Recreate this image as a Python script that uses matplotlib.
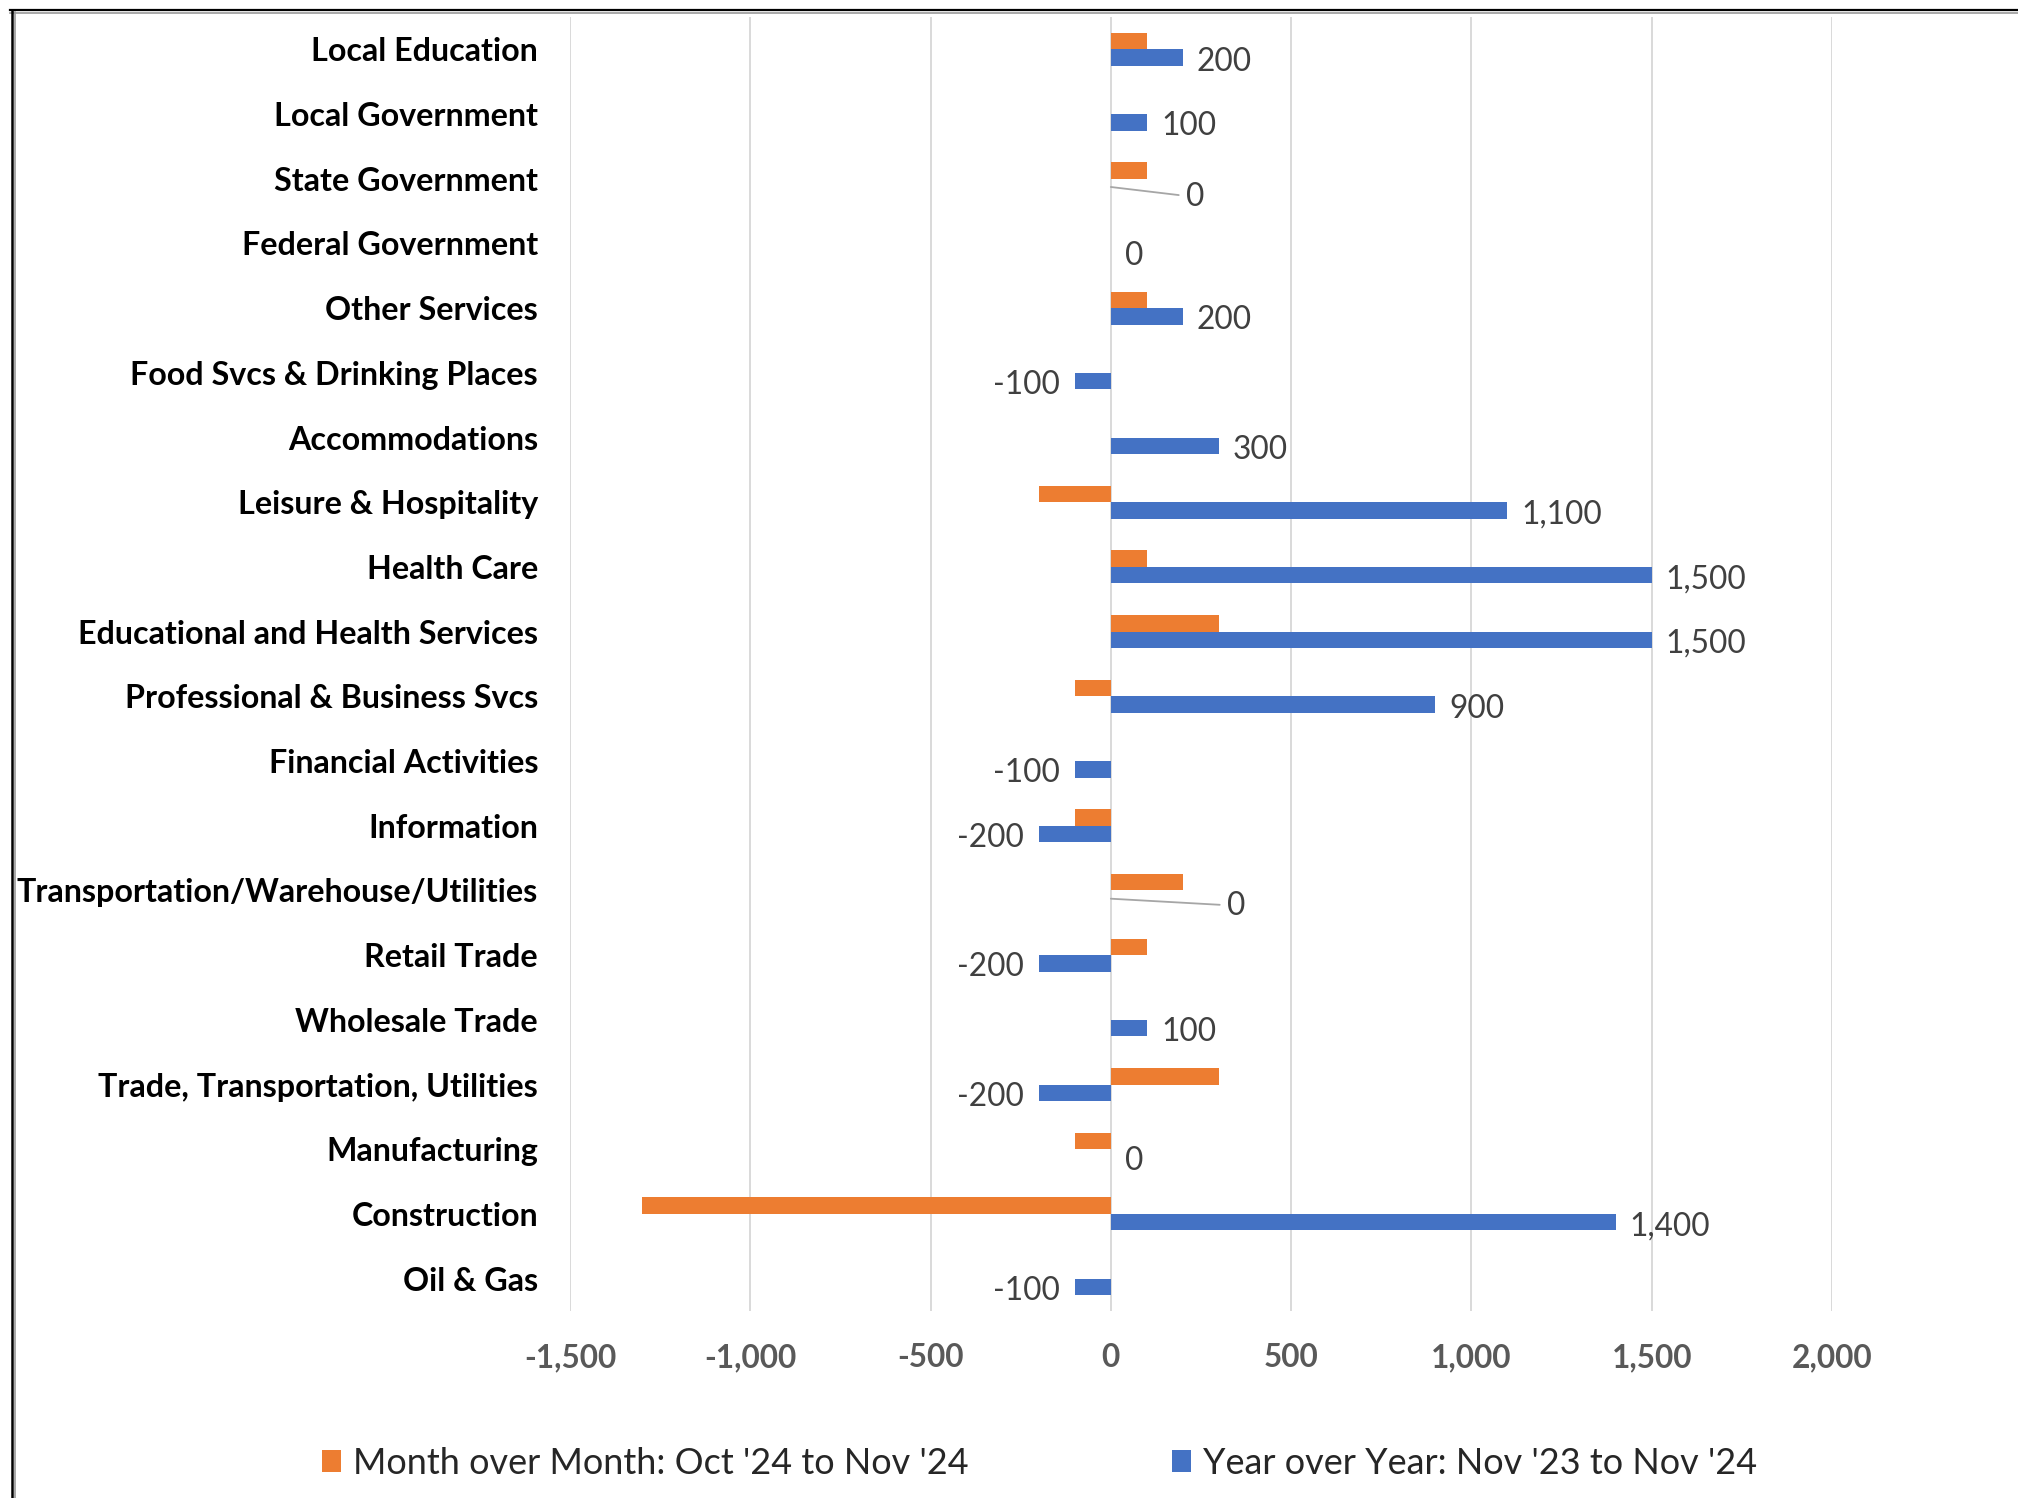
import numpy as np
import matplotlib
matplotlib.use("Agg")
import matplotlib.pyplot as plt
from matplotlib.textpath import TextPath
from matplotlib.font_manager import FontProperties
from matplotlib.ticker import FuncFormatter
from matplotlib.lines import Line2D

# ---------------- data ----------------
categories = [
    "Local Education", "Local Government", "State Government", "Federal Government",
    "Other Services", "Food Svcs & Drinking Places", "Accommodations",
    "Leisure & Hospitality", "Health Care", "Educational and Health Services",
    "Professional & Business Svcs", "Financial Activities", "Information",
    "Transportation/Warehouse/Utilities", "Retail Trade", "Wholesale Trade",
    "Trade, Transportation, Utilities", "Manufacturing", "Construction", "Oil & Gas",
]
mom = [100, 0, 100, 0, 100, 0, 0, -200, 100, 300, -100, 0, -100, 200, 100, 0, 300, -100, -1300, 0]
yoy = [200, 100, 0, 0, 200, -100, 300, 1100, 1500, 1500, 900, -100, -200, 0, -200, 100, -200, 0, 1400, -100]
series_names = ["Month over Month: Oct '24 to Nov '24", "Year over Year: Nov '23 to Nov '24"]
xticks = [-1500, -1000, -500, 0, 500, 1000, 1500, 2000]

# ---------------- style ----------------
W, H, DPI = 2018, 1498, 100
FAM = "Lato"
ORANGE, BLUE = "#ED7D31", "#4472C4"


def fit(text, weight, target_px):
    fp = FontProperties(family=FAM, weight=weight)
    w = TextPath((0, 0), text, size=100, prop=fp).get_extents().width
    return target_px * 72 / DPI * 100 / w


fs_cat = fit("Transportation/Warehouse/Utilities", "bold", 520)
fs_tick = fit("-1,500", "bold", 90)
fs_lab = fit("1,500", "normal", 77)
fs_leg = fit(series_names[0], "normal", 610)

fig = plt.figure(figsize=(W / DPI, H / DPI), dpi=DPI)
ax = fig.add_axes([570 / W, 1 - 1311 / H, (1832 - 570) / W, (1311 - 17) / H])

n = len(categories)
y = np.arange(n)
h = 0.255
ax.barh(y - h / 2, mom, height=h, color=ORANGE, label=series_names[0], zorder=3)
ax.barh(y + h / 2, yoy, height=h, color=BLUE, label=series_names[1], zorder=3)

ax.set_xlim(-1500, 2000)
ax.set_ylim(n - 0.5, -0.5)
ax.set_xticks(xticks)
ax.xaxis.set_major_formatter(FuncFormatter(lambda v, p: f"{int(v):,}"))
ax.set_yticks(y)
ax.set_yticklabels(categories, fontsize=fs_cat, fontweight="bold", family=FAM, color="black")
for t in ax.get_xticklabels():
    t.set_fontsize(fs_tick)
    t.set_fontweight("bold")
    t.set_family(FAM)
    t.set_color("#595959")
ax.tick_params(axis="y", length=0, pad=23)
ax.tick_params(axis="x", length=0, pad=23)
ax.grid(axis="x", color="#D9D9D9", lw=1.4, zorder=0)
ax.set_axisbelow(True)
for s in ax.spines.values():
    s.set_visible(False)

# data labels for YoY series
leader = {2: (84, -10), 13: (125, -7)}
for i, v in enumerate(yoy):
    yy = i + h / 2
    txt = f"{v:,}"
    if i in leader:
        dx, dy = leader[i]
        ax.annotate(txt, xy=(0, yy), xytext=(dx, dy), textcoords="offset pixels",
                    ha="center", va="center", fontsize=fs_lab, family=FAM, color="#404040",
                    arrowprops=dict(arrowstyle="-", color="#A6A6A6", lw=1.3, shrinkA=3, shrinkB=0),
                    zorder=4)
    elif v >= 0:
        ax.annotate(txt, xy=(v, yy), xytext=(14, -4), textcoords="offset pixels",
                    ha="left", va="center", fontsize=fs_lab, family=FAM, color="#404040", zorder=4)
    else:
        ax.annotate(txt, xy=(v, yy), xytext=(-15, -4), textcoords="offset pixels",
                    ha="right", va="center", fontsize=fs_lab, family=FAM, color="#404040", zorder=4)

# legend
handles, labels = ax.get_legend_handles_labels()
em = fs_leg * DPI / 72
leg = fig.legend(handles, labels, loc="center left", bbox_to_anchor=(322 / W, 1 - 1463 / H),
                 ncol=2, frameon=False, borderpad=0, borderaxespad=0,
                 handlelength=19 / em, handleheight=20 / em, handletextpad=12 / em,
                 columnspacing=203 / em, prop=FontProperties(family=FAM, size=fs_leg))
for t in leg.get_texts():
    t.set_color("#262626")

# screenshot frame (top and left edges)
fig.add_artist(Line2D([10 / W, 1], [1 - 10 / H] * 2, transform=fig.transFigure, color="black", lw=1.6))
fig.add_artist(Line2D([10 / W, 1], [1 - 12.5 / H] * 2, transform=fig.transFigure, color="#9a9a9a", lw=1.2))
fig.add_artist(Line2D([12 / W] * 2, [0, 1 - 10 / H], transform=fig.transFigure, color="black", lw=1.8))
fig.add_artist(Line2D([14.5 / W] * 2, [0, 1 - 12 / H], transform=fig.transFigure, color="#9a9a9a", lw=1.2))

fig.savefig("out.png", dpi=DPI, facecolor="white")
